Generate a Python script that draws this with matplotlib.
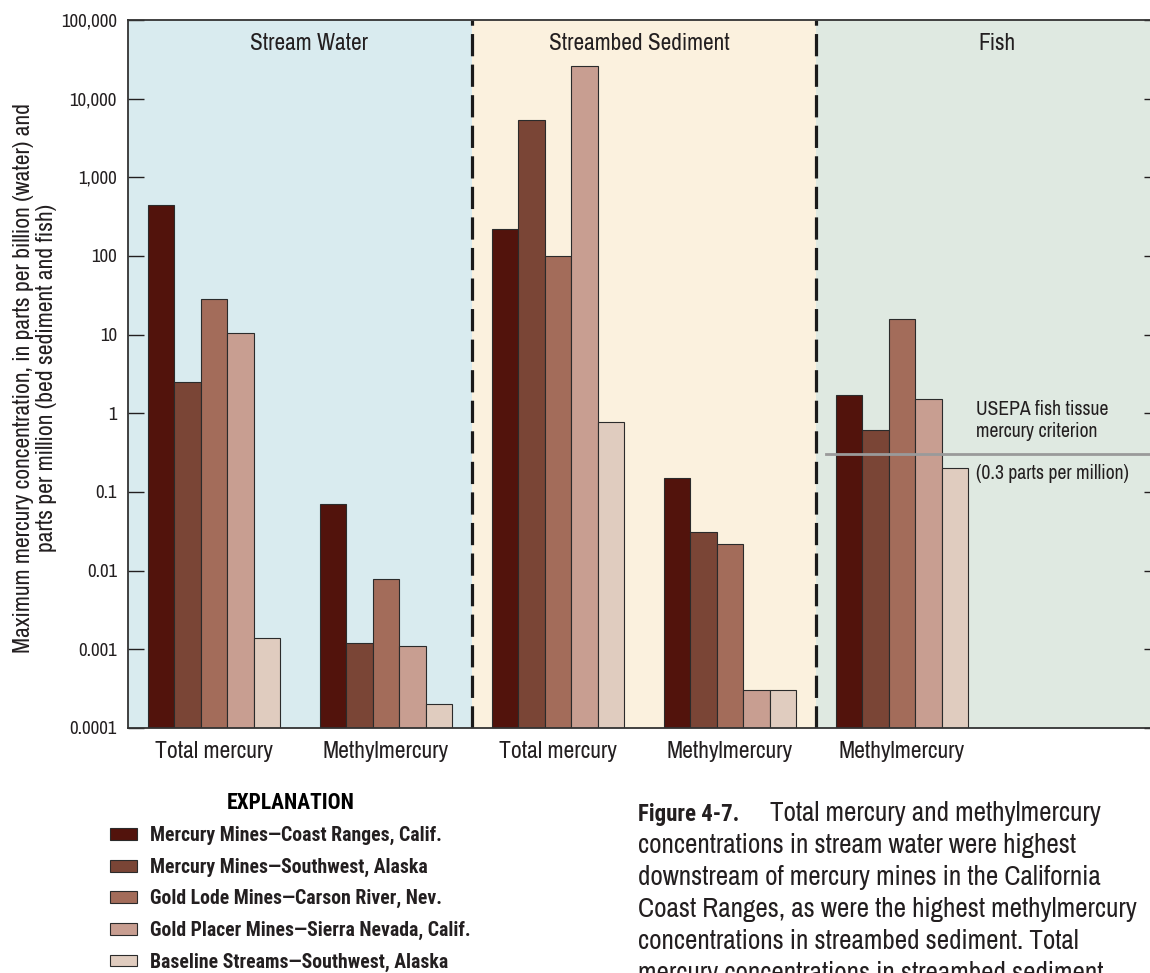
import numpy as np
import matplotlib
matplotlib.use("Agg")
import matplotlib.pyplot as plt
from matplotlib import font_manager


def pick_family(cands, bold=False):
    # first installed family (with a real bold face when asked)
    for name in cands:
        for f in font_manager.fontManager.ttflist:
            if f.name != name:
                continue
            wt = f.weight
            if isinstance(wt, str):
                wt = font_manager.weight_dict.get(wt, 400)
            if not bold or wt >= 600:
                return name
    return "DejaVu Sans"


regular = pick_family(['Archivo Narrow', 'Roboto Condensed', 'Liberation Sans Narrow'])
boldfam = pick_family(['Roboto Condensed', 'Fira Sans Condensed', 'IBM Plex Sans Condensed',
                       'Barlow Semi Condensed', 'Encode Sans Condensed', 'PT Sans Narrow',
                       'Saira SemiCondensed', 'Liberation Sans Narrow'], bold=True)
plt.rcParams['font.family'] = [regular, 'DejaVu Sans']
plt.rcParams['lines.scale_dashes'] = False

# data
groups = ["Total mercury", "Methylmercury", "Total mercury", "Methylmercury", "Methylmercury"]
series = ["Mercury Mines\u2014Coast Ranges, Calif.",
          "Mercury Mines\u2014Southwest, Alaska",
          "Gold Lode Mines\u2014Carson River, Nev.",
          "Gold Placer Mines\u2014Sierra Nevada, Calif.",
          "Baseline Streams\u2014Southwest, Alaska"]
coast_ranges = [440, 0.070, 218, 0.15, 1.7]
sw_alaska = [2.5, 0.0012, 5400, 0.031, 0.61]
carson_river = [28, 0.0078, 100, 0.022, 16]
sierra_nevada = [10.5, 0.0011, 26000, 0.0003, 1.5]
baseline = [0.0014, 0.0002, 0.78, 0.0003, 0.2]
panels = ["Stream Water", "Streambed Sediment", "Fish"]
criterion = 0.3
ytick_vals = [1e-4, 1e-3, 1e-2, 1e-1, 1, 10, 100, 1e3, 1e4, 1e5]
ytick_labels = ["0.0001", "0.001", "0.01", "0.1", "1", "10", "100", "1,000", "10,000", "100,000"]

colors = ["#52130c", "#7a4536", "#a36c5a", "#c89e91", "#e0ccbf"]
panel_colors = ["#d9ebef", "#fbf1de", "#dfe9e1"]
ink = "#231f20"

W, H = 1150, 973
fig = plt.figure(figsize=(W / 100, H / 100), dpi=100)
ax = fig.add_axes([128 / W, 1 - 728 / H, (1160 - 128) / W, (728 - 20) / H])

ymin = 1e-4
ax.set_yscale("log")
ax.set_ylim(ymin, 1e5)
ax.set_xlim(-0.5, 5.5)

for i, c in enumerate(panel_colors):
    ax.axvspan(-0.5 + 2 * i, 1.5 + 2 * i, color=c, zorder=0, lw=0)
for xv in [1.5, 3.5]:
    ax.axvline(xv, color="#1a1a1a", lw=2.3, dashes=(16, 6), zorder=1)

x = np.arange(len(groups))
w = 26.4 / 172
vals = [coast_ranges, sw_alaska, carson_river, sierra_nevada, baseline]
handles = []
for k, v in enumerate(vals):
    v = np.array(v)
    b = ax.bar(x + (k - 2) * w, v - ymin, w, bottom=ymin, color=colors[k],
               edgecolor="#2b2b2b", lw=0.8, zorder=2, label=series[k])
    handles.append(b)

# criterion line
ax.plot([3.56, 5.5], [criterion, criterion], color="#9a9a9a", lw=2, zorder=3)
ax.text(4.43, 0.45, "USEPA fish tissue\nmercury criterion", fontsize=14.2,
        color=ink, ha="left", va="bottom", linespacing=1.15)
ax.text(4.43, 0.23, "(0.3 parts per million)", fontsize=14.2,
        color=ink, ha="left", va="top")

for px, name in zip([0.55, 2.47, 4.55], panels):
    ax.text(px, 5e4, name, fontsize=16.8, color=ink, ha="center", va="center")

ax.set_yticks(ytick_vals)
ax.set_yticklabels(ytick_labels)
ax.minorticks_off()
ax.tick_params(axis="y", which="major", direction="in", length=11.5, width=1,
               right=True, labelsize=13.5, colors=ink, pad=8)
ax.set_xticks(x)
ax.set_xticklabels(groups)
ax.tick_params(axis="x", length=0, labelsize=17, pad=9, colors=ink)
for s in ["left", "bottom", "top", "right"]:
    ax.spines[s].set_color("#333333")
    ax.spines[s].set_linewidth(1.3)

fig.text(35 / W, 1 - 378 / H,
         "Maximum mercury concentration, in parts per billion (water) and\n"
         "parts per million (bed sediment and fish)",
         rotation=90, ha="center", va="center", fontsize=17, color=ink,
         multialignment="center", linespacing=1.1)

leg = fig.legend(handles=handles, loc="upper left", bbox_to_anchor=(92 / W, 1 - 774 / H),
                 frameon=False, title="EXPLANATION", fontsize=14.2,
                 title_fontproperties={"family": [boldfam, 'DejaVu Sans'],
                                       "weight": "bold", "size": 15.5},
                 handlelength=1.36, handleheight=0.55, handletextpad=0.7,
                 labelspacing=0.63)
for t in leg.get_texts():
    t.set_family([boldfam, 'DejaVu Sans'])
    t.set_fontweight("bold")
    t.set_color(ink)

# caption
cap_lines = ["concentrations in stream water were highest",
             "downstream of mercury mines in the California",
             "Coast Ranges, as were the highest methylmercury",
             "concentrations in streambed sediment. Total",
             "mercury concentrations in streambed sediment"]
fig.text(638 / W, 1 - 821 / H, "Figure 4-7.", fontsize=16.5, fontweight="bold",
         family=[boldfam, 'DejaVu Sans'], color=ink, va="baseline")
fig.text(770 / W, 1 - 821 / H, "Total mercury and methylmercury", fontsize=19.5,
         color=ink, va="baseline")
for i, line in enumerate(cap_lines):
    fig.text(638 / W, 1 - (853 + 32 * i) / H, line, fontsize=19.5,
             color=ink, va="baseline")

plt.savefig("out.png", dpi=100)
